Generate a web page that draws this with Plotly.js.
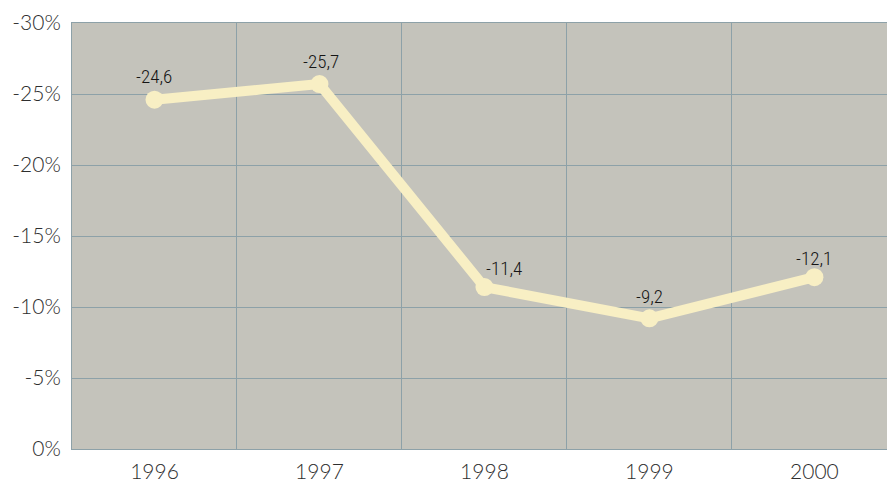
<!DOCTYPE html>
<html><head><meta charset="utf-8">
<script src="https://cdn.plot.ly/plotly-3.0.1.min.js"></script>
<style>html,body{margin:0;padding:0;background:#fff}#c{width:887px;height:482px}</style>
</head><body><div id="c"></div>
<script>
var years = ["1996", "1997", "1998", "1999", "2000"];
var values = [-24.6, -25.7, -11.4, -9.2, -12.1];
var labelXShift = [0, 2, 20, 0, 0];
var labelYShift = [23, 23, 19, 22, 19];
var yTickVals = [0, -5, -10, -15, -20, -25, -30];
var yTickText = ["0%", "-5%", "-10%", "-15%", "-20%", "-25%", "-30%"];

var labels = values.map(function(v){ return v.toFixed(1).replace('.', ','); });

var trace = {
  x: years, y: values, type: 'scatter', mode: 'lines+markers',
  line: {color: '#f8efc4', width: 10},
  marker: {color: '#f8efc4', size: 18},
  cliponaxis: false, hoverinfo: 'skip'
};

var annotations = years.map(function(yr, i){
  return {
    x: i, y: values[i], xref: 'x', yref: 'y', text: labels[i], showarrow: false,
    xshift: labelXShift[i], yshift: labelYShift[i],
    font: {family: '"Roboto Condensed", "Liberation Sans Narrow", "DejaVu Sans Condensed", sans-serif', size: 19, color: '#151515', weight: 300}
  };
});

var tickFont = {family: 'Lato, "Open Sans", sans-serif', size: 21, color: '#2e2e2e', weight: 300};

var layout = {
  width: 887, height: 482,
  margin: {l: 72, r: 0, t: 23, b: 33},
  paper_bgcolor: '#ffffff', plot_bgcolor: '#c4c3bb',
  showlegend: false,
  annotations: annotations,
  xaxis: {
    type: 'category', range: [-0.5, 4.44], tickson: 'boundaries',
    showgrid: true, gridcolor: '#8da1a8', gridwidth: 1,
    showline: true, linecolor: '#8da1a8', linewidth: 1, mirror: true,
    ticks: '', ticklabelstandoff: 4, tickfont: tickFont,
    zeroline: false, fixedrange: true
  },
  yaxis: {
    range: [0, -30], tickvals: yTickVals, ticktext: yTickText,
    showgrid: true, gridcolor: '#8da1a8', gridwidth: 1,
    showline: true, linecolor: '#8da1a8', linewidth: 1, mirror: true,
    ticks: '', ticklabelstandoff: 6, tickfont: tickFont,
    zeroline: false, fixedrange: true
  }
};
Plotly.newPlot('c', [trace], layout, {staticPlot: true, displayModeBar: false});
</script></body></html>
